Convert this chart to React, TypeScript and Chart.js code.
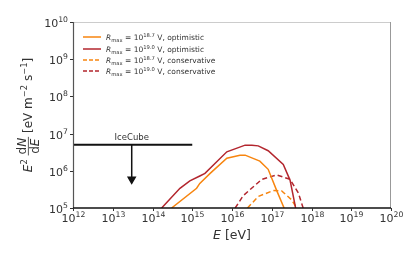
import React, { useEffect, useRef } from "react";
import { Chart, registerables } from "chart.js";

Chart.register(...registerables);

// log10 of energy [eV] and log10 of E^2 dN/dE [eV m^-2 s^-1]
const redOptLogE = [14.23, 14.69, 14.94, 15.19, 15.32, 15.87, 16.33, 16.5, 16.66, 16.91, 17.29, 17.46, 17.56, 17.6];
const redOptLogF = [5.0, 5.53, 5.73, 5.86, 5.93, 6.51, 6.69, 6.69, 6.67, 6.54, 6.17, 5.75, 5.22, 5.0];
const orangeOptLogE = [14.48, 15.11, 15.19, 15.45, 15.87, 16.2, 16.33, 16.7, 16.91, 17.12, 17.31];
const orangeOptLogF = [5.0, 5.53, 5.66, 5.93, 6.34, 6.42, 6.42, 6.26, 6.04, 5.48, 5.0];
const redConsLogE = [16.08, 16.28, 16.75, 17.12, 17.46, 17.67, 17.79];
const redConsLogF = [5.0, 5.33, 5.77, 5.89, 5.77, 5.4, 5.0];
const orangeConsLogE = [16.39, 16.66, 17.04, 17.25, 17.5, 17.63];
const orangeConsLogF = [5.0, 5.31, 5.47, 5.46, 5.22, 5.0];

const iceCubeE = [1e12, 1e15];
const iceCubeLimit = 5e6;
const iceCubeArrowE = 3e13;
const iceCubeArrowTip = 5.9e5;

const xTickExps = [12, 13, 14, 15, 16, 17, 18, 19, 20];
const yTickExps = [5, 6, 7, 8, 9, 10];

const legendExps = ["18.7", "19.0", "18.7", "19.0"];
const legendKinds = ["optimistic", "optimistic", "conservative", "conservative"];

const ORANGE = "#f7850f";
const RED = "#b3262e";
const FONT = '"DejaVu Sans"';

type Seg = { t: string; it?: boolean; sup?: boolean; sub?: boolean };

function segFont(s: Seg, base: number) {
  const size = s.sup || s.sub ? base * 0.7 : base;
  return `${s.it ? "italic " : ""}${size}px ${FONT}`;
}
function richWidth(ctx: CanvasRenderingContext2D, segs: Seg[], base: number) {
  let w = 0;
  for (const s of segs) {
    ctx.font = segFont(s, base);
    w += ctx.measureText(s.t).width;
  }
  return w;
}
function drawRich(ctx: CanvasRenderingContext2D, segs: Seg[], x: number, y: number, base: number) {
  let cx = x;
  ctx.textBaseline = "alphabetic";
  ctx.textAlign = "left";
  for (const s of segs) {
    ctx.font = segFont(s, base);
    const dy = s.sup ? -base * 0.42 : s.sub ? base * 0.2 : 0;
    ctx.fillText(s.t, cx, y + dy);
    cx += ctx.measureText(s.t).width;
  }
  return cx;
}

const toPts = (le: number[], lf: number[]) => le.map((e, i) => ({ x: Math.pow(10, e), y: Math.pow(10, lf[i]) }));

const decorPlugin = {
  id: "decor",
  afterDatasetsDraw(chart: any) {
    const ctx: CanvasRenderingContext2D = chart.ctx;
    const { left, right, top, bottom } = chart.chartArea;
    const xs = chart.scales.x;
    const ys = chart.scales.y;
    ctx.save();
    // spines
    ctx.lineWidth = 1;
    ctx.strokeStyle = "#cccccc";
    ctx.beginPath(); ctx.moveTo(left, top + 0.5); ctx.lineTo(right, top + 0.5); ctx.stroke();
    ctx.strokeStyle = "#999999";
    ctx.beginPath(); ctx.moveTo(right - 0.5, top); ctx.lineTo(right - 0.5, bottom); ctx.stroke();
    ctx.strokeStyle = "#555555";
    ctx.lineWidth = 1.2;
    ctx.beginPath(); ctx.moveTo(left + 0.5, top); ctx.lineTo(left + 0.5, bottom); ctx.stroke();
    ctx.strokeStyle = "#111111";
    ctx.lineWidth = 1.3;
    ctx.beginPath(); ctx.moveTo(left, bottom); ctx.lineTo(right, bottom); ctx.stroke();

    // ticks & labels
    ctx.fillStyle = "#333333";
    ctx.strokeStyle = "#333333";
    ctx.lineWidth = 1;
    for (const e of xTickExps) {
      const px = Math.round(xs.getPixelForValue(Math.pow(10, e))) + 0.5;
      ctx.beginPath(); ctx.moveTo(px, bottom); ctx.lineTo(px, bottom + 3); ctx.stroke();
      const segs: Seg[] = [{ t: "10" }, { t: String(e), sup: true }];
      const w = richWidth(ctx, segs, 11);
      drawRich(ctx, segs, px - w / 2, bottom + 14, 11);
    }
    for (const e of yTickExps) {
      const py = Math.round(ys.getPixelForValue(Math.pow(10, e))) + 0.5;
      ctx.beginPath(); ctx.moveTo(left, py); ctx.lineTo(left - 3, py); ctx.stroke();
      const segs: Seg[] = [{ t: "10" }, { t: String(e), sup: true }];
      const w = richWidth(ctx, segs, 11);
      drawRich(ctx, segs, left - 5 - w, py + 4, 11);
    }

    // x label
    {
      const segs: Seg[] = [{ t: "E", it: true }, { t: " [eV]" }];
      const w = richWidth(ctx, segs, 12.5);
      drawRich(ctx, segs, (left + right) / 2 - w / 2, 239, 12.5);
    }

    // y label (rotated)
    {
      const base = 12;
      ctx.save();
      ctx.translate(32, 115);
      ctx.rotate(-Math.PI / 2);
      const pre: Seg[] = [{ t: "E", it: true }, { t: "2", sup: true }, { t: " " }];
      const num: Seg[] = [{ t: "d" }, { t: "N", it: true }];
      const den: Seg[] = [{ t: "d" }, { t: "E", it: true }];
      const post: Seg[] = [{ t: " [eV m" }, { t: "−2", sup: true }, { t: " s" }, { t: "−1", sup: true }, { t: "]" }];
      const wPre = richWidth(ctx, pre, base);
      const wNum = richWidth(ctx, num, base);
      const wDen = richWidth(ctx, den, base);
      const wFrac = Math.max(wNum, wDen) + 2;
      const wPost = richWidth(ctx, post, base);
      const total = wPre + wFrac + wPost;
      let u = -total / 2;
      drawRich(ctx, pre, u, 0, base);
      u += wPre;
      const barV = -base * 0.3;
      drawRich(ctx, num, u + (wFrac - wNum) / 2, barV - 2, base);
      drawRich(ctx, den, u + (wFrac - wDen) / 2, barV + 2 + base * 0.73, base);
      ctx.lineWidth = 0.8;
      ctx.beginPath(); ctx.moveTo(u, barV); ctx.lineTo(u + wFrac, barV); ctx.stroke();
      u += wFrac;
      drawRich(ctx, post, u, 0, base);
      ctx.restore();
    }

    // IceCube label
    {
      ctx.font = `8.5px ${FONT}`;
      ctx.fillStyle = "#333333";
      ctx.textAlign = "center";
      ctx.textBaseline = "alphabetic";
      const px = xs.getPixelForValue(iceCubeArrowE);
      const py = ys.getPixelForValue(iceCubeLimit);
      ctx.fillText("IceCube", px, py - 5);
    }

    // legend
    {
      const rowsY = [37, 49, 60, 71];
      const colors = [ORANGE, RED, ORANGE, RED];
      rowsY.forEach((ry, i) => {
        ctx.strokeStyle = colors[i];
        ctx.lineWidth = 1.5;
        ctx.setLineDash(i >= 2 ? [4, 2] : []);
        ctx.beginPath(); ctx.moveTo(83, ry); ctx.lineTo(101, ry); ctx.stroke();
        ctx.setLineDash([]);
        ctx.fillStyle = "#333333";
        const segs: Seg[] = [
          { t: "R", it: true }, { t: "max", sub: true }, { t: " = 10" }, { t: legendExps[i], sup: true },
          { t: " V, " + legendKinds[i] },
        ];
        drawRich(ctx, segs, 106, ry + 3, 7.5);
      });
    }
    ctx.restore();
  },
};

export default function App() {
  const ref = useRef<HTMLCanvasElement | null>(null);
  useEffect(() => {
    if (!ref.current) return;
    const line = (data: any[], color: string, dashed: boolean) => ({
      data,
      borderColor: color,
      borderWidth: 1.5,
      borderDash: dashed ? [5, 3] : [],
      pointRadius: 0,
      fill: false,
      tension: 0,
    });
    const chart = new Chart(ref.current, {
      type: "line",
      data: {
        datasets: [
          line(toPts(orangeOptLogE, orangeOptLogF), ORANGE, false),
          line(toPts(redOptLogE, redOptLogF), RED, false),
          line(toPts(orangeConsLogE, orangeConsLogF), ORANGE, true),
          line(toPts(redConsLogE, redConsLogF), RED, true),
          {
            data: iceCubeE.map((e) => ({ x: e, y: iceCubeLimit })),
            borderColor: "#111111",
            borderWidth: 2,
            pointRadius: 0,
          },
          {
            data: [{ x: iceCubeArrowE, y: iceCubeLimit }, { x: iceCubeArrowE, y: iceCubeArrowTip }],
            borderColor: "#111111",
            borderWidth: 1.5,
            pointRadius: [0, 4],
            pointStyle: "triangle",
            rotation: 180,
            pointBackgroundColor: "#111111",
            pointBorderColor: "#111111",
          } as any,
        ],
      },
      options: {
        animation: false,
        responsive: false,
        maintainAspectRatio: false,
        parsing: true as any,
        layout: { padding: { left: 73, top: 22, right: 24, bottom: 49 } },
        plugins: { legend: { display: false }, tooltip: { enabled: false } },
        scales: {
          x: { type: "logarithmic", min: 1e12, max: 1e20, display: false },
          y: { type: "logarithmic", min: 1e5, max: 1e10, display: false },
        },
      },
      plugins: [decorPlugin],
    });
    return () => chart.destroy();
  }, []);
  return (
    <div style={{ position: "absolute", left: 0, top: 0, width: 415, height: 257, background: "#fff" }}>
      <canvas ref={ref} width={415} height={257} style={{ width: 415, height: 257 }} />
    </div>
  );
}
